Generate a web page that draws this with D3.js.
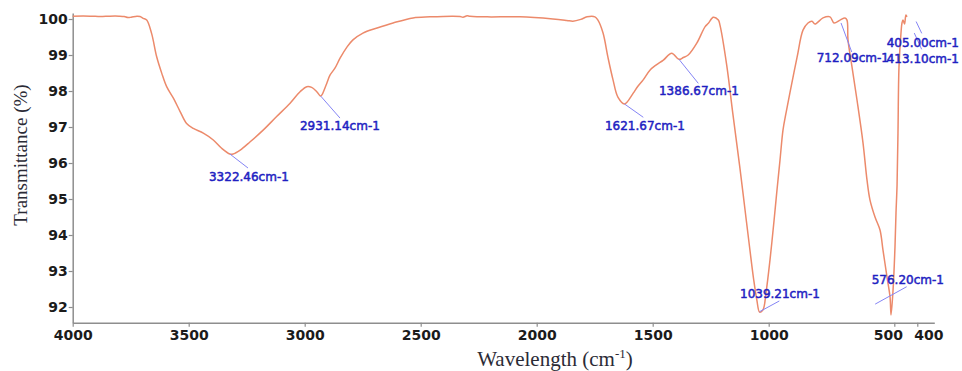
<!DOCTYPE html>
<html>
<head>
<meta charset="utf-8">
<script src="https://cdn.jsdelivr.net/npm/d3@7"></script>
<style>
  html, body { margin: 0; padding: 0; background: #ffffff; }
  svg { display: block; }
</style>
</head>
<body>
<svg id="chart" width="962" height="371"></svg>
<script>
// FTIR spectrum: wavenumber (cm-1) and transmittance (%)
const wavenumber = [
  4000, 3925, 3880, 3840, 3800, 3778, 3762, 3748, 3723, 3710, 3696, 3681, 3660, 3638, 3616,
  3595, 3566, 3537, 3509, 3480, 3437, 3394, 3358, 3322.46, 3309, 3278, 3235, 3178, 3121, 3063,
  3020, 2991, 2970, 2948, 2931.14, 2925, 2905, 2891, 2869, 2847, 2818, 2792, 2749, 2688, 2619,
  2533, 2460, 2361, 2330, 2318, 2300, 2288, 2214, 2072, 1930, 1870, 1844, 1810, 1783, 1749,
  1736, 1714, 1693, 1671, 1650, 1621.67, 1611, 1584, 1563, 1541, 1512, 1486, 1454, 1418, 1386.67,
  1368, 1347, 1310, 1274, 1260, 1239, 1217, 1210, 1181, 1155, 1124, 1103, 1082, 1064.5, 1051,
  1039.21, 1024.6, 1011.7, 994.8, 978.9, 967, 955, 943, 931, 915, 887, 863.5, 843.6, 827.7, 815.7,
  783.9, 756, 740, 716, 696.3, 688.3, 684.3, 668.4, 648.5, 624.6, 608.7, 596.7, 576.8, 556.9, 545,
  529, 517, 513, 505, 497, 492.6, 488, 484, 479.6, 470.9, 466.6, 462, 455.5, 449.5, 445
];
const transmittance = [
  100.08, 100.08, 100.07, 100.08, 100.08, 100.07, 100.04, 100.05, 100.08, 100.07, 100.02, 99.97, 99.60, 98.95, 98.49,
  98.12, 97.80, 97.43, 97.10, 96.96, 96.83, 96.64, 96.41, 96.25, 96.25, 96.36, 96.59, 96.92, 97.29, 97.66,
  97.98, 98.12, 98.10, 97.98, 97.86, 97.90, 98.21, 98.44, 98.64, 98.92, 99.22, 99.42, 99.61, 99.75, 99.89,
  100.03, 100.06, 100.08, 100.07, 100.05, 100.09, 100.08, 100.06, 100.06, 100.00, 99.96, 99.94, 99.99, 100.06, 100.06,
  99.97, 99.61, 98.94, 98.31, 97.83, 97.64, 97.69, 97.94, 98.14, 98.31, 98.58, 98.72, 98.86, 99.05, 98.88,
  98.93, 99.00, 99.33, 99.79, 99.88, 100.05, 99.97, 99.83, 98.72, 97.39, 95.86, 94.75, 93.64, 92.75, 92.19,
  91.86, 91.92, 92.39, 93.31, 94.39, 95.25, 96.08, 96.92, 97.39, 97.97, 98.94, 99.69, 99.89, 99.94, 99.86,
  100.03, 100.06, 99.89, 99.97, 100.03, 99.97, 99.42, 98.67, 97.75, 96.56, 95.53, 94.97, 94.50, 94.14, 93.58,
  92.83, 92.28, 91.78, 92.47, 93.67, 94.61, 95.39, 96.83, 98.67, 99.61, 99.89, 99.97, 99.86, 100.11, 100.06
];

// Labelled bands
const peakWavenumber = [3322.46, 2931.14, 1621.67, 1386.67, 1039.21, 712.09, 576.20, 413.10, 405.00];
const peakTransmittance = [96.25, 97.86, 97.64, 98.88, 91.87, 99.89, 92.08, 99.61, 99.93];

// Axis ticks
const xTickValues = [4000, 3500, 3000, 2500, 2000, 1500, 1000, 500, 400];
const yTickValues = [92, 93, 94, 95, 96, 97, 98, 99, 100];

// Callout geometry in pixels relative to each band point:
// [leader end dx, leader end dy, text dx, text baseline dy]
const calloutLayout = [
  [18.1, 14, -20.9, 27],
  [19.3, 22, -20.7, 34],
  [18.8, 13.3, -19.5, 26],
  [19.3, 24, -20, 35.7],
  [19.7, -10.7, -19.6, -13.2],
  [10.7, 29, -24.3, 39],
  [31.5, -17.4, -3.5, -20.6],
  [7.4, 16.3, -27.6, 29.5],
  [5.6, 11.8, -29.4, 25]
];

const svg = d3.select("#chart");
const frame = { left: 72.7, right: 934.3, top: 13, bottom: 322.7 };

// Wavenumber axis runs high to low; the region below 1000 cm-1 is drawn wider
const x = d3.scaleLinear()
  .domain([4000, 1000, 500, 326])
  .range([frame.left, 768.7, 894.3, frame.right]);
const y = d3.scaleLinear()
  .domain([91.564, 100.167])
  .range([frame.bottom, frame.top]);

const axisColor = "#8e8e8e";
const tickFont = "'DejaVu Sans', sans-serif";

// X axis
const gx = svg.append("g")
  .attr("transform", `translate(0,${frame.bottom})`)
  .call(d3.axisBottom(x).tickValues(xTickValues).tickSize(4).tickSizeOuter(0).tickPadding(3.3).tickFormat(d3.format("d")));

// The two crowded low-wavenumber labels are spread apart
const labelNudge = { 500: -6.5, 400: 11 };
gx.selectAll(".tick text").attr("dx", d => labelNudge[d] || 0);

// Y axis
const gy = svg.append("g")
  .attr("transform", `translate(${frame.left},0)`)
  .call(d3.axisLeft(y).tickValues(yTickValues).tickSize(4).tickSizeOuter(0).tickPadding(1).tickFormat(d3.format("d")));

[gx, gy].forEach(g => {
  g.select(".domain").attr("stroke", axisColor).attr("stroke-width", 1.5);
  g.selectAll(".tick line").attr("stroke", axisColor).attr("stroke-width", 1.2);
  g.selectAll(".tick text")
    .attr("fill", "#1b1b1b")
    .style("font-family", tickFont)
    .style("font-weight", "bold")
    .style("font-size", "14px");
});

// Spectrum trace
const spectrum = wavenumber.map((w, i) => ({ w, t: transmittance[i] }));
svg.append("path")
  .datum(spectrum)
  .attr("fill", "none")
  .attr("stroke", "#ec8a6b")
  .attr("stroke-width", 1.5)
  .attr("stroke-linejoin", "round")
  .attr("d", d3.line().x(d => x(d.w)).y(d => y(d.t)).curve(d3.curveCatmullRom.alpha(0.5)));

// Band callouts
const peaks = peakWavenumber.map((w, i) => ({ w, t: peakTransmittance[i], layout: calloutLayout[i] }));
const callouts = svg.append("g");
callouts.selectAll("line")
  .data(peaks)
  .join("line")
  .attr("x1", d => x(d.w))
  .attr("y1", d => y(d.t))
  .attr("x2", d => x(d.w) + d.layout[0])
  .attr("y2", d => y(d.t) + d.layout[1])
  .attr("stroke", "#8585f5")
  .attr("stroke-width", 1);
callouts.selectAll("text")
  .data(peaks)
  .join("text")
  .attr("x", d => x(d.w) + d.layout[2])
  .attr("y", d => y(d.t) + d.layout[3])
  .attr("fill", "#1f1fc2")
  .attr("stroke", "#1f1fc2")
  .attr("stroke-width", 0.5)
  .style("font-family", tickFont)
  .style("font-size", "12px")
  .text(d => d.w.toFixed(2) + "cm-1");

// Axis titles
svg.append("text")
  .attr("transform", "translate(27,155) rotate(-90)")
  .attr("text-anchor", "middle")
  .attr("fill", "#2b2b36")
  .style("font-family", "'Liberation Serif', 'Times New Roman', serif")
  .style("font-size", "19px")
  .text("Transmittance (%)");

const xTitle = svg.append("text")
  .attr("x", 555)
  .attr("y", 366)
  .attr("text-anchor", "middle")
  .attr("fill", "#2b2b36")
  .style("font-family", "'Liberation Serif', 'Times New Roman', serif")
  .style("font-size", "21px");
xTitle.append("tspan").text("Wavelength (cm");
xTitle.append("tspan").attr("dy", -8).style("font-size", "13px").text("-1");
xTitle.append("tspan").attr("dy", 8).text(")");
</script>
</body>
</html>
